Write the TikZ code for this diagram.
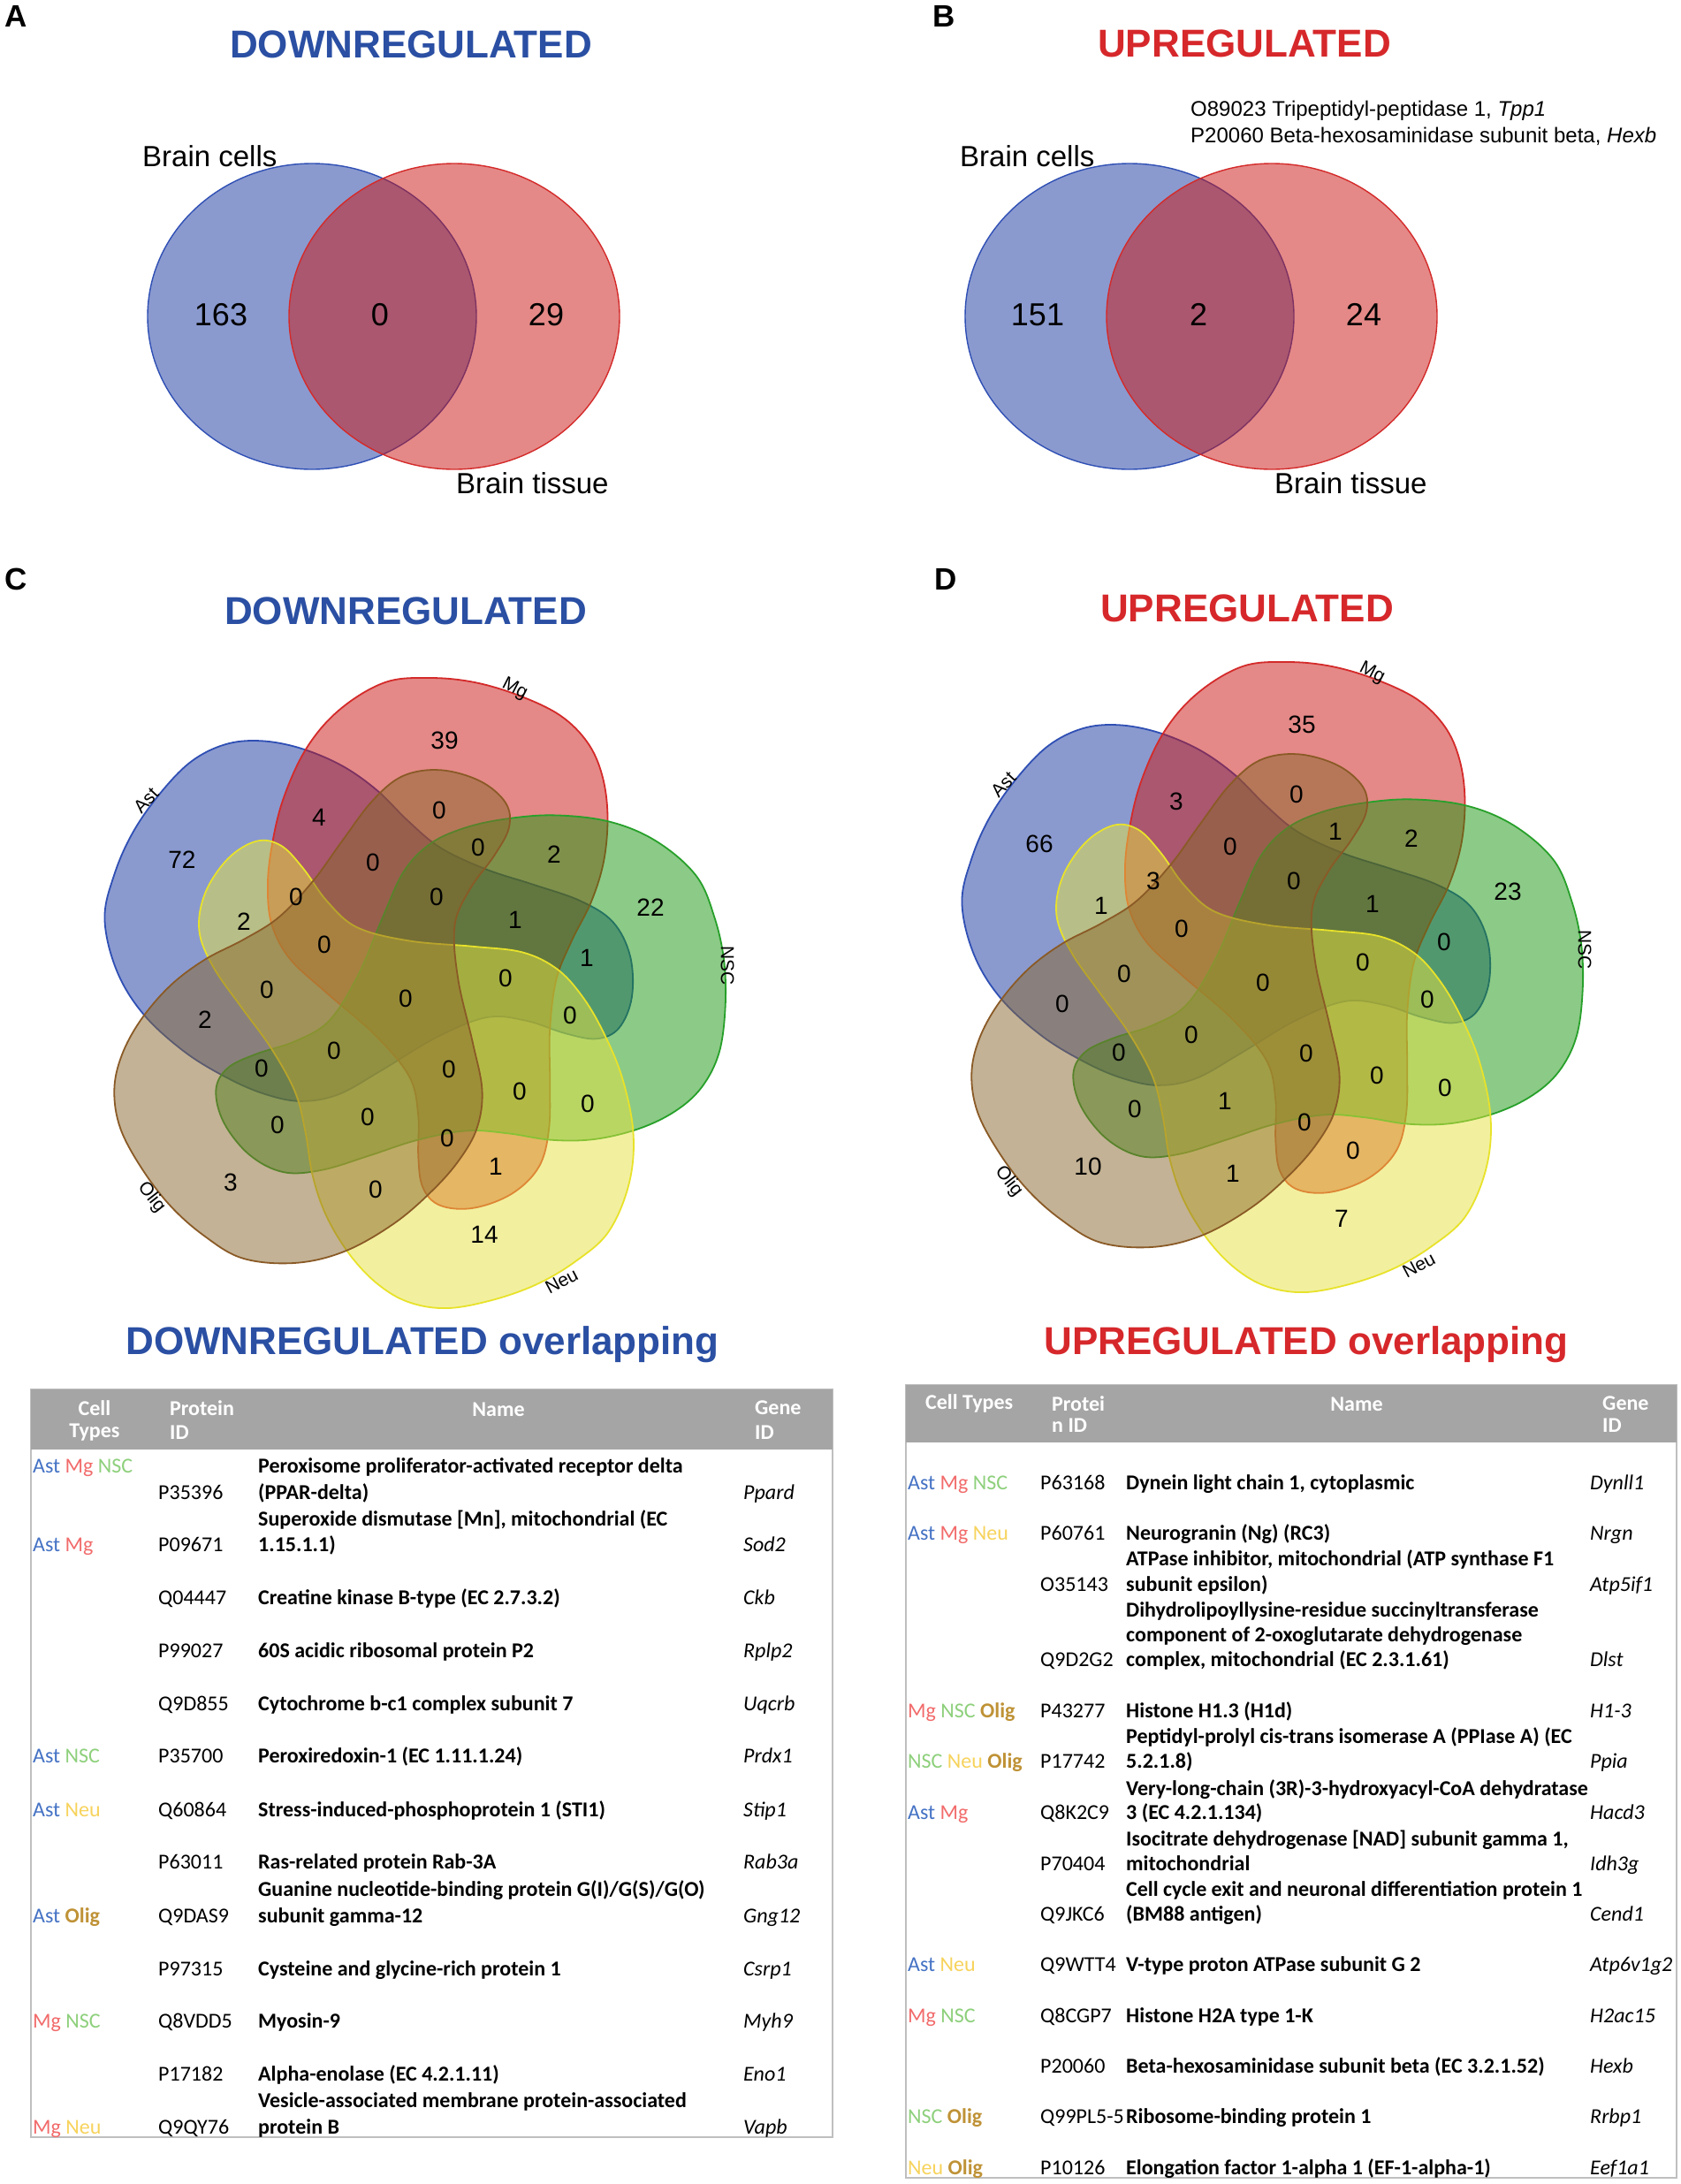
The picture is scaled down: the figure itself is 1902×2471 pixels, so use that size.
\documentclass[tikz,border=0pt]{standalone}
\usepackage{fontspec}
\setmainfont{Liberation Sans}
\newfontfamily\calibrifont{Carlito}
\usetikzlibrary{positioning}

% set colours (fills are laid at half opacity)
\definecolor{astfill}{HTML}{1737A1}
\definecolor{mgfill}{HTML}{CB1511}
\definecolor{nscfill}{HTML}{1B9711}
\definecolor{neufill}{HTML}{E7E341}
\definecolor{oligfill}{HTML}{89672D}
\definecolor{astline}{HTML}{2F4FB4}
\definecolor{mgline}{HTML}{D42A2A}
\definecolor{nscline}{HTML}{27A02A}
\definecolor{neuline}{HTML}{E8E22A}
\definecolor{oligline}{HTML}{8A5A26}
% text colours
\definecolor{downblue}{HTML}{2A4FA3}
\definecolor{upred}{HTML}{D6282B}
\definecolor{hdrgray}{HTML}{A5A5A5}
\definecolor{tabframe}{HTML}{BFBFBF}
\definecolor{astt}{HTML}{4472C4}
\definecolor{mgt}{HTML}{F26B6B}
\definecolor{nsct}{HTML}{8ED07C}
\definecolor{neut}{HTML}{F7D35C}
\definecolor{oligt}{HTML}{BF9236}

\newcommand\tAst{\textcolor{astt}{Ast}}
\newcommand\tMg{\textcolor{mgt}{Mg}}
\newcommand\tNSC{\textcolor{nsct}{NSC}}
\newcommand\tNeu{\textcolor{neut}{Neu}}
\newcommand\tOlig{\textcolor{oligt}{\bfseries Olig}}

\tikzset{
  every node/.style={inner sep=0pt},
  panel/.style={font=\fontsize{35}{40}\selectfont\bfseries},
  headline/.style={font=\fontsize{44}{50}\selectfont\bfseries},
  setname/.style={font=\fontsize{33}{38}\selectfont},
  bignum/.style={font=\fontsize{36}{40}\selectfont},
  annot/.style={font=\fontsize{24}{28}\selectfont, anchor=west},
  blobname/.style={font=\fontsize{21}{24}\selectfont},
  num/.style={font=\fontsize{28}{32}\selectfont},
  ring/.style={fill opacity=0.5, line width=1.4pt},
  blob/.style={fill opacity=0.5, line width=1.8pt},
  tabhead/.style={font=\calibrifont\bfseries\fontsize{24}{28}\selectfont, text=white},
  tabtext/.style={font=\calibrifont\fontsize{24}{28}\selectfont, anchor=base west},
  tabname/.style={font=\calibrifont\bfseries\fontsize{24}{28}\selectfont, anchor=base west},
  tabgene/.style={font=\calibrifont\itshape\fontsize{24}{28}\selectfont, anchor=base west}
}

\begin{document}
\begin{tikzpicture}[x=1pt, y=-1pt]
\useasboundingbox (0,0) rectangle (1902,2471);
\fill[white] (0,0) rectangle (1902,2471);

% A and B: two-set diagrams
\node[panel] (pa) at (18,18) {A};
\node[panel] (pb) at (1068,18) {B};
\node[headline, text=downblue] (ta) at (465,50) {DOWNREGULATED};
\node[headline, text=upred] (tb) at (1408,49) {UPREGULATED};
\foreach \cx in {353, 1278}{
  \path[ring, fill=astfill, draw=astline] (\cx,358) ellipse [x radius=186pt, y radius=173pt];
  \path[ring, fill=mgfill, draw=mgline] (\cx+161,358) ellipse [x radius=187pt, y radius=173pt];
}
\node[setname, anchor=west] (cellsa) at (161,177) {Brain cells};
\node[setname, anchor=west] (tissuea) at (516,547) {Brain tissue};
\node[setname, anchor=west] (cellsb) at (1086,177) {Brain cells};
\node[setname, anchor=west] (tissueb) at (1442,547) {Brain tissue};
\node[bignum] (a1) at (250,356) {163};
\node[bignum] (a2) at (430,356) {0};
\node[bignum] (a3) at (618,356) {29};
\node[bignum] (b1) at (1174,356) {151};
\node[bignum] (b2) at (1356,356) {2};
\node[bignum] (b3) at (1543,356) {24};
\node[annot] (hit1) at (1347,125) {O89023 Tripeptidyl-peptidase 1, \textit{Tpp1}};
\node[annot] (hit2) at (1347,154) {P20060 Beta-hexosaminidase subunit beta, \textit{Hexb}};

% C and D: five-set diagrams, same outlines
\node[panel] (pc) at (18,655) {C};
\node[panel] (pd) at (1070,655) {D};
\node[headline, text=downblue] (tc) at (459,691) {DOWNREGULATED};
\node[headline, text=upred] (td) at (1411,688) {UPREGULATED};
\foreach \cx/\cy/\pn in {461/1124/c, 1431/1106/d}{
  \begin{scope}[shift={(\cx,\cy)}, scale=1.02]
    \foreach \ang/\fc/\lc in {72/astfill/astline, 0/mgfill/mgline, -72/nscfill/nscline,
                              -144/neufill/neuline, 144/oligfill/oligline}
      \path[blob, fill=\fc, draw=\lc, rotate=\ang] plot[smooth cycle, tension=0.6] coordinates {
        (-112,-272) (-75,-315) (-25,-345) (25,-350) (75,-345) (125,-330) (170,-308)
        (200,-278) (216,-242) (222,-198) (218,-148) (204,-102) (182,-58) (165,-15)
        (158,40) (158,95) (157,150) (146,192) (116,222) (73,238) (36,235) (17,215)
        (12,180) (12,135) (2,92) (-36,46) (-90,-1) (-130,-38) (-150,-75) (-155,-115)
        (-151,-160) (-138,-215)};
    \node[blobname, rotate=47] (\pn ast) at (-290,-214) {Ast};
    \node[blobname, rotate=-27] (\pn mg) at (119,-338) {Mg};
    \node[blobname, rotate=-90] (\pn nsc) at (355,-31) {NSC};
    \node[blobname, rotate=28] (\pn neu) at (171,319) {Neu};
    \node[blobname, rotate=-52] (\pn olig) at (-284,226) {Olig};
  \end{scope}
}
% region counts: offset / down / up
\foreach \x/\y/\a/\b [count=\k] in {-254/-145/72/66, 43/-280/39/35, 276/-91/22/23,
    88/279/14/7, -199/220/3/10, -99/-193/4/3, 37/-201/0/0, 81/-159/0/1, 167/-151/2/2,
    -38/-142/0/0, 34/-103/0/0, 123/-77/1/1, 204/-34/1/0, -184/-75/2/1, -125/-103/0/3,
    -93/-49/0/0, 112/-11/0/0, -158/2/0/0, -1/12/0/0, 185/31/0/0, -228/36/2/0,
    -82/71/0/0, -164/91/0/0, 48/92/0/0, 128/117/0/0, 205/131/0/0, -146/155/0/0,
    -44/146/0/1, 46/170/0/0, 101/202/1/0, -35/228/0/1}{
  \node[num] (cn\k) at (460+\x,1118+\y) {\a};
  \node[num] (dn\k) at (1430+\x,1100+\y) {\b};
}

% overlap tables
\node[headline, text=downblue] (tl) at (478,1521) {DOWNREGULATED overlapping};
\node[headline, text=upred] (tr) at (1478,1521) {UPREGULATED overlapping};

\draw[tabframe, line width=1.2pt, fill=white] (35,1572) rectangle (942,2418);
\fill[hdrgray] (35,1572) rectangle (942,1640);
\node[tabhead] (lh1) at (107,1593) {Cell};
\node[tabhead] (lh2) at (107,1621) {Types};
\node[tabhead, anchor=west] (lh3) at (192,1593) {Protein};
\node[tabhead, anchor=west] (lh4) at (192,1621) {ID};
\node[tabhead] (lh5) at (564,1595) {Name};
\node[tabhead, anchor=west] (lh6) at (854,1593) {Gene};
\node[tabhead, anchor=west] (lh7) at (854,1621) {ID};
\foreach \yy/\txt [count=\k] in {1658/{\tAst\ \tMg\ \tNSC}, 1747/{\tAst\ \tMg}, 1986/{\tAst\ \tNSC},
    2047/{\tAst\ \tNeu}, 2167/{\tAst\ \tOlig}, 2286/{\tMg\ \tNSC}, 2406/{\tMg\ \tNeu}}
  \node[tabtext] (lc\k) at (37,\yy+8) {\txt};
\foreach \yy/\pid/\gid [count=\k] in {1688/P35396/Ppard, 1747/P09671/Sod2, 1807/Q04447/Ckb,
    1867/P99027/Rplp2, 1927/Q9D855/Uqcrb, 1986/P35700/Prdx1, 2047/Q60864/Stip1,
    2106/P63011/Rab3a, 2167/Q9DAS9/Gng12, 2227/P97315/Csrp1, 2286/Q8VDD5/Myh9,
    2346/P17182/Eno1, 2406/Q9QY76/Vapb}{
  \node[tabtext] (lp\k) at (179,\yy+8) {\pid};
  \node[tabgene] (lg\k) at (841,\yy+8) {\gid};
}
\foreach \yy/\txt [count=\k] in {1658/{Peroxisome proliferator-activated receptor delta},
    1688/{(PPAR-delta)}, 1718/{Superoxide dismutase [Mn], mitochondrial (EC}, 1747/{1.15.1.1)},
    1807/{Creatine kinase B-type (EC 2.7.3.2)}, 1867/{60S acidic ribosomal protein P2},
    1927/{Cytochrome b-c1 complex subunit 7}, 1986/{Peroxiredoxin-1 (EC 1.11.1.24)},
    2047/{Stress-induced-phosphoprotein 1 (STI1)}, 2106/{Ras-related protein Rab-3A},
    2137/{Guanine nucleotide-binding protein G(I)/G(S)/G(O)}, 2167/{subunit gamma-12},
    2227/{Cysteine and glycine-rich protein 1}, 2286/{Myosin-9},
    2346/{Alpha-enolase (EC 4.2.1.11)}, 2376/{Vesicle-associated membrane protein-associated},
    2406/{protein B}}
  \node[tabname] (ln\k) at (292,\yy+8) {\txt};

\draw[tabframe, line width=1.2pt, fill=white] (1025,1567) rectangle (1897,2464);
\fill[hdrgray] (1025,1567) rectangle (1897,1632);
\node[tabhead, anchor=west] (rh1) at (1047,1588) {Cell Types};
\node[tabhead, anchor=west] (rh2) at (1190,1588) {Protei};
\node[tabhead, anchor=west] (rh3) at (1190,1613) {n ID};
\node[tabhead] (rh4) at (1535,1589) {Name};
\node[tabhead, anchor=west] (rh5) at (1813,1588) {Gene};
\node[tabhead, anchor=west] (rh6) at (1813,1613) {ID};
\foreach \yy/\txt [count=\k] in {1677/{\tAst\ \tMg\ \tNSC}, 1734/{\tAst\ \tMg\ \tNeu},
    1935/{\tMg\ \tNSC\ \tOlig}, 1992/{\tNSC\ \tNeu\ \tOlig}, 2050/{\tAst\ \tMg},
    2222/{\tAst\ \tNeu}, 2280/{\tMg\ \tNSC}, 2394/{\tNSC\ \tOlig}, 2452/{\tNeu\ \tOlig}}
  \node[tabtext] (rc\k) at (1027,\yy+8) {\txt};
\foreach \yy/\pid/\gid [count=\k] in {1677/P63168/Dynll1, 1734/P60761/Nrgn, 1792/O35143/Atp5if1,
    1877/Q9D2G2/Dlst, 1935/P43277/H1-3, 1992/P17742/Ppia, 2050/Q8K2C9/Hacd3,
    2108/P70404/Idh3g, 2165/Q9JKC6/Cend1, 2222/Q9WTT4/Atp6v1g2, 2280/Q8CGP7/H2ac15,
    2337/P20060/Hexb, 2394/Q99PL5-5/Rrbp1, 2452/P10126/Eef1a1}{
  \node[tabtext] (rp\k) at (1177,\yy+8) {\pid};
  \node[tabgene] (rg\k) at (1799,\yy+8) {\gid};
}
\foreach \yy/\txt [count=\k] in {1677/{Dynein light chain 1, cytoplasmic},
    1734/{Neurogranin (Ng) (RC3)}, 1763/{ATPase inhibitor, mitochondrial (ATP synthase F1},
    1792/{subunit epsilon)}, 1821/{Dihydrolipoyllysine-residue succinyltransferase},
    1849/{component of 2-oxoglutarate dehydrogenase}, 1877/{complex, mitochondrial (EC 2.3.1.61)},
    1935/{Histone H1.3 (H1d)}, 1964/{Peptidyl-prolyl cis-trans isomerase A (PPIase A) (EC},
    1992/{5.2.1.8)}, 2023/{Very-long-chain (3R)-3-hydroxyacyl-CoA dehydratase},
    2050/{3 (EC 4.2.1.134)}, 2080/{Isocitrate dehydrogenase [NAD] subunit gamma 1,},
    2108/{mitochondrial}, 2137/{Cell cycle exit and neuronal differentiation protein 1},
    2165/{(BM88 antigen)}, 2222/{V-type proton ATPase subunit G 2},
    2280/{Histone H2A type 1-K}, 2337/{Beta-hexosaminidase subunit beta (EC 3.2.1.52)},
    2394/{Ribosome-binding protein 1}, 2452/{Elongation factor 1-alpha 1 (EF-1-alpha-1)}}
  \node[tabname] (rn\k) at (1274,\yy+8) {\txt};
\end{tikzpicture}
\end{document}
